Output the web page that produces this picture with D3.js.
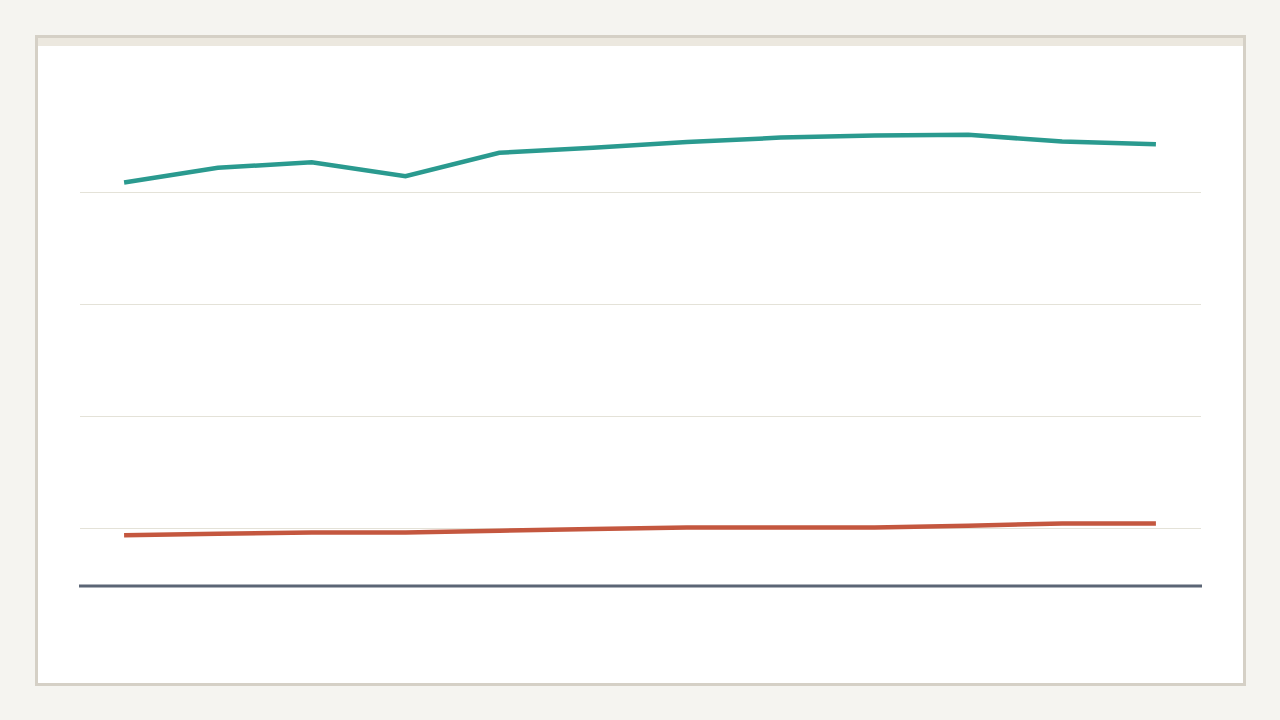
<!DOCTYPE html>
<html>
<head>
<meta charset="utf-8">
<script src="https://cdn.jsdelivr.net/npm/d3@7"></script>
<style>
    html, body { margin: 0; padding: 0; background: #f5f4f0; }
    svg { display: block; font-family: 'Noto Sans', sans-serif; }
</style>
</head>
<body>
<svg id="chart" width="1280" height="720"></svg>
<script>

const periods = ['2010', '2011', '2012', '2013', '2014', '2015', '2016', '2017', '2018', '2019', '2020', '2021'];
const seriesTeal = [81.8, 84.4, 85.4, 82.9, 87.1, 88.0, 89.0, 89.8, 90.2, 90.3, 89.1, 88.6];
const seriesRed = [18.8, 19.05, 19.3, 19.3, 19.6, 19.9, 20.2, 20.2, 20.2, 20.5, 20.9, 20.9];
const gridValues = [20, 40, 60, 80];


const margin = {top: 80, right: 80, bottom: 134, left: 80};

document.addEventListener('DOMContentLoaded', function() {
    drawCard();
    drawLineChart('#chart', margin, 1280, 720);
});

function drawCard(){
    const svg = d3.select('#chart');

    // card with border
    svg.append('rect')
        .attr('x', 36.5)
        .attr('y', 36.5)
        .attr('width', 1208)
        .attr('height', 648)
        .attr('fill', '#ffffff')
        .attr('stroke', '#d5d0c6')
        .attr('stroke-width', 3);

    // thin band across the top
    svg.append('rect')
        .attr('x', 38)
        .attr('y', 38)
        .attr('width', 1205)
        .attr('height', 8)
        .attr('fill', '#ece8df');
}

function drawLineChart(svgSelect, margin, widthSelect, heightSelect){
    const svg = d3.select(svgSelect);
    const width = widthSelect - margin.left - margin.right;
    const height = heightSelect - margin.top - margin.bottom;
    const g = svg.append('g').attr('transform', `translate(${margin.left},${margin.top})`);

    const x = d3.scalePoint()
        .domain(periods)
        .range([0, width])
        .padding(0.47);

    const y = d3.scaleLinear()
        .domain([20, 80])
        .range([448.5, 112.5]);

    // gridlines
    g.append('g')
        .selectAll('line')
        .data(gridValues)
        .enter().append('line')
        .attr('x1', 0)
        .attr('x2', width + 1)
        .attr('y1', d => y(d))
        .attr('y2', d => y(d))
        .attr('stroke', '#e4e2d8')
        .attr('stroke-width', 1);

    // bottom axis line
    const xAxis = g.append('g')
        .attr('transform', `translate(0,${height})`)
        .call(d3.axisBottom(x).tickSize(0).tickFormat(''));
    xAxis.select('.domain')
        .attr('d', `M-1,0H${width + 2}`)
        .attr('stroke', '#5b6575')
        .attr('stroke-width', 3);

    const line = d3.line()
        .x((d, i) => x(periods[i]))
        .y(d => y(d));

    g.append('path')
        .datum(seriesRed)
        .attr('d', line)
        .attr('fill', 'none')
        .attr('stroke', '#c4573f')
        .attr('stroke-width', 4.5);

    g.append('path')
        .datum(seriesTeal)
        .attr('d', line)
        .attr('fill', 'none')
        .attr('stroke', '#2a9a8f')
        .attr('stroke-width', 4.5);
}

</script>
</body>
</html>
